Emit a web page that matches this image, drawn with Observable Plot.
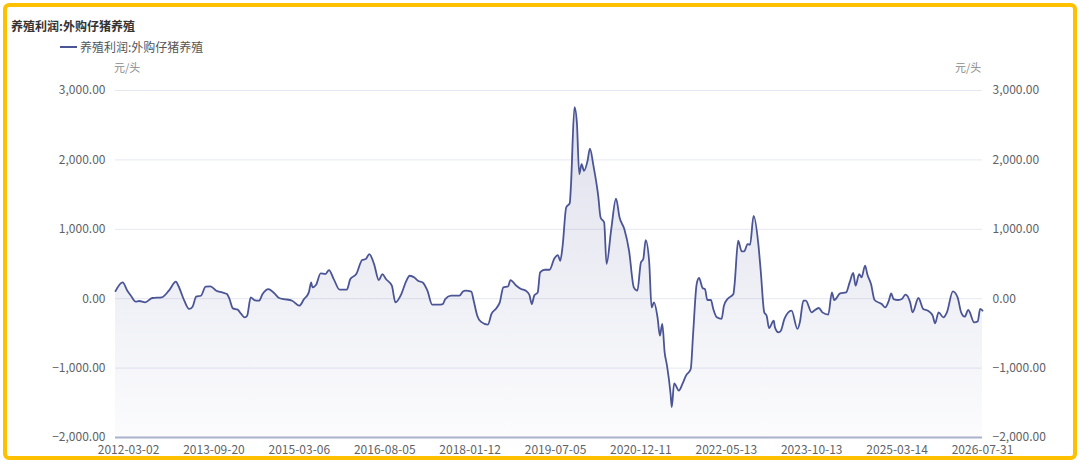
<!DOCTYPE html>
<html>
<head>
<meta charset="utf-8">
<script src="https://cdn.jsdelivr.net/npm/d3@7"></script>
<script src="https://cdn.jsdelivr.net/npm/@observablehq/plot@0.6"></script>
<style>
  body { margin: 0; background: #fff; font-family: "Noto Sans CJK SC", "Noto Sans", sans-serif; }
  #wrap { position: relative; width: 1080px; height: 469px; overflow: hidden; }
  #frame { position: absolute; left: 3px; top: 3px; width: 1074px; height: 457px; box-sizing: border-box;
           border: 4px solid #ffc000; border-radius: 6px; pointer-events: none; }
  #title { position: absolute; left: 11px; top: 18px; font-size: 12px; line-height: 16px; font-weight: bold; color: #333; }
  #legend-swatch { position: absolute; left: 60px; top: 46px; width: 17px; height: 2px; background: #4b5596; }
  #legend-text { position: absolute; left: 80px; top: 39px; font-size: 12px; line-height: 16px; color: #555; }
  .unit { position: absolute; top: 60px; font-size: 11px; line-height: 14px; color: #8a8a8a; }
  #chart { position: absolute; left: 0; top: 75px; }
</style>
</head>
<body>
<div id="wrap">
  <div id="title">养殖利润:外购仔猪养殖</div>
  <div id="legend-swatch"></div>
  <div id="legend-text">养殖利润:外购仔猪养殖</div>
  <div class="unit" style="left:114px">元/头</div>
  <div class="unit" style="left:955px">元/头</div>
  <div id="chart"></div>
  <div id="frame"></div>
</div>
<script>
// x axis labels sit on every 72nd weekly category
const labels = ["2012-03-02", "2013-09-20", "2015-03-06", "2016-08-05", "2018-01-12", "2019-07-05",
                "2020-12-11", "2022-05-13", "2023-10-13", "2025-03-14", "2026-07-31"]
const tickIdx = [11, 83, 155, 227, 299, 371, 443, 515, 587, 659, 731]
const yTicks = [-2000, -1000, 0, 1000, 2000, 3000]

// week index (category position) and profit, 元/头
const week = [
  0, 6, 10, 13, 17, 20, 25, 31, 39, 45,
  51, 53, 58, 62, 65, 68, 72, 76, 80, 85,
  90, 94, 96, 99, 103, 106, 109, 111, 114, 117,
  121, 124, 129, 134, 138, 142, 149, 155, 159, 163,
  165, 166, 169, 173, 177, 180, 184, 189, 195, 198,
  203, 208, 211, 214, 218, 222, 225, 228, 233, 236,
  241, 245, 248, 252, 255, 259, 263, 267, 272, 276,
  278, 283, 290, 293, 295, 300, 302, 305, 308, 314,
  317, 321, 324, 327, 331, 333, 338, 342, 346, 349,
  351, 353, 356, 358, 362, 366, 370, 373, 375, 377,
  380, 383, 384, 387, 389, 391, 393, 395, 398, 400,
  403, 407, 409, 412, 414, 418, 422, 425, 429, 433,
  437, 440, 443, 445, 447, 450, 452, 454, 457, 459,
  461, 463, 465, 468, 469, 471, 475, 478, 481, 485,
  487, 490, 492, 495, 497, 499, 502, 504, 507, 511,
  513, 516, 521, 522, 525, 528, 530, 533, 535, 538,
  542, 544, 547, 549, 551, 555, 556, 559, 561, 564,
  570, 575, 577, 580, 582, 587, 589, 593, 596, 601,
  604, 606, 611, 616, 619, 622, 624, 627, 629, 632,
  634, 637, 640, 646, 649, 652, 654, 656, 660, 663,
  666, 670, 672, 677, 681, 685, 689, 691, 694, 698,
  701, 706, 710, 713, 716, 719, 724, 727, 729, 731
]
const profit = [
  110, 235, 115, 43, -43, -33, -53, 10, 19, 115,
  245, 187, -29, -148, -115, 29, 43, 173, 177, 115,
  91, 67, 0, -140, -158, -220, -269, -245, 19, -19,
  -29, 67, 139, 76, 10, -5, -29, -101, -5, 91,
  235, 163, 197, 365, 355, 413, 283, 130, 130, 283,
  355, 557, 571, 643, 499, 269, 355, 283, 187, -53,
  67, 249, 331, 307, 259, 235, 115, -86, -86, -77,
  -5, 43, 43, 105, 115, 101, -29, -245, -331, -374,
  -220, -140, -53, 163, 177, 269, 187, 139, 115, 53,
  -77, 43, 91, 379, 417, 417, 580, 629, 547, 763,
  1314, 1377, 1626, 2760, 2537, 1794, 1938, 1842, 1986, 2163,
  1914, 1482, 1170, 1098, 499, 1003, 1443, 1170, 1003, 691,
  163, 115, 522, 571, 845, 522, -125, -53, -269, -532,
  -364, -773, -964, -1371, -1563, -1219, -1324, -1228, -1108, -1012,
  -508, 211, 298, 154, 139, -19, -19, -148, -269, -292,
  -101, -5, 67, 211, 835, 681, 681, 787, 777, 1194,
  787, 403, -197, -245, -422, -317, -413, -485, -461, -292,
  -173, -436, -341, -29, -29, -197, -173, -134, -197, -230,
  91, -19, 76, 91, 235, 370, 187, 355, 307, 475,
  345, 211, -19, -77, -125, -29, 76, -5, -19, -5,
  58, -53, -197, 10, -148, -173, -245, -355, -197, -269,
  -197, 105, 19, -197, -259, -163, -341, -327, -148, -173
]

const data = week.map((w, i) => ({w: w, v: profit[i]}))
const fmt = d3.format(",.2f")

// vertical fade for the area under the line
function areaGradient() {
  const ns = "http://www.w3.org/2000/svg"
  const defs = document.createElementNS(ns, "defs")
  const lg = document.createElementNS(ns, "linearGradient")
  lg.setAttribute("id", "areaFade")
  lg.setAttribute("x1", "0"); lg.setAttribute("y1", "0")
  lg.setAttribute("x2", "0"); lg.setAttribute("y2", "1")
  ;[[0, 0.18], [1, 0.02]].forEach(([off, op]) => {
    const s = document.createElementNS(ns, "stop")
    s.setAttribute("offset", off)
    s.setAttribute("stop-color", "#4b5596")
    s.setAttribute("stop-opacity", op)
    lg.appendChild(s)
  })
  defs.appendChild(lg)
  return defs
}

const chart = Plot.plot({
  width: 1080,
  height: 394,
  marginLeft: 115,
  marginRight: 98,
  marginTop: 15,
  marginBottom: 32,
  style: {fontFamily: '"Noto Sans CJK SC", "Noto Sans", sans-serif', fontSize: "12px", color: "#606266", background: "transparent"},
  x: {domain: [0, 731]},
  y: {domain: [-2000, 3000]},
  marks: [
    areaGradient,
    Plot.gridY(yTicks.filter(d => d > -2000), {stroke: "#e6e8f1", strokeOpacity: 1}),
    Plot.areaY(data, {x: "w", y1: -2000, y2: "v", fill: "url(#areaFade)", curve: "monotone-x"}),
    Plot.lineY(data, {x: "w", y: "v", stroke: "#4b5596", strokeWidth: 1.8, curve: "monotone-x"}),
    Plot.ruleY([-2000], {stroke: "#aab1cb", strokeWidth: 2}),
    Plot.axisY({anchor: "left", ticks: yTicks, tickFormat: fmt, tickSize: 0, tickPadding: 10, label: null}),
    Plot.axisY({anchor: "right", ticks: yTicks, tickFormat: fmt, tickSize: 0, tickPadding: 10, label: null}),
    Plot.axisX({ticks: tickIdx, tickFormat: d => labels[tickIdx.indexOf(d)], tickSize: 0, tickPadding: 8, label: null})
  ]
})

d3.select("#chart").append(() => chart)
</script>
</body>
</html>
